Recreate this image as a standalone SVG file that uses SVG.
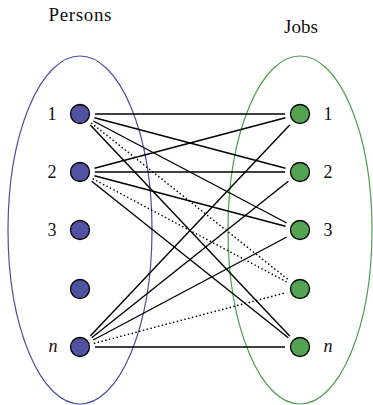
<svg xmlns="http://www.w3.org/2000/svg" width="373" height="405" viewBox="0 0 373 405">
<style>
.t{font-family:"Liberation Serif","DejaVu Serif",serif;fill:#111;}
.lbl{font-size:18px;text-anchor:middle;}
.pn{fill:#5252a3;stroke:#000;stroke-width:1.3;}
.jn{fill:#52a352;stroke:#000;stroke-width:1.3;}
.e{stroke:#000;stroke-width:1.4;fill:none;}
.d{stroke:#000;stroke-width:1.6;stroke-dasharray:0.1 3.8;stroke-linecap:round;fill:none;}
</style>
<rect width="373" height="405" fill="#fff"/>
<g id="persons-set">
<ellipse cx="80" cy="230" rx="72" ry="174" fill="none" stroke="#4d4d9e" stroke-width="1.2"/>
<text class="t" x="80" y="21" font-size="19" text-anchor="middle" textLength="63">Persons</text>
</g>
<g id="jobs-set">
<ellipse cx="300" cy="230" rx="72" ry="174" fill="none" stroke="#4d9e4d" stroke-width="1.2"/>
<text class="t" x="301" y="33" font-size="19" text-anchor="middle">Jobs</text>
</g>
<g id="connectors">
<line class="e" x1="95" y1="114" x2="285" y2="114"/>
<line class="e" x1="94.5" y1="117.8" x2="285.5" y2="168.2"/>
<line class="e" x1="93.3" y1="121" x2="286.7" y2="223"/>
<line class="d" x1="91.7" y1="123.3" x2="288.3" y2="279.7"/>
<line class="e" x1="90.3" y1="124.9" x2="289.7" y2="336.1"/>
<line class="e" x1="94.5" y1="168.2" x2="285.5" y2="117.8"/>
<line class="e" x1="95" y1="172" x2="285" y2="172"/>
<line class="e" x1="94.5" y1="175.8" x2="285.5" y2="226.2"/>
<line class="d" x1="93.2" y1="179" x2="286.8" y2="282"/>
<line class="e" x1="91.7" y1="181.3" x2="288.3" y2="337.7"/>
<line class="e" x1="90.3" y1="336.1" x2="289.7" y2="124.9"/>
<line class="e" x1="91.7" y1="337.7" x2="288.3" y2="181.3"/>
<line class="e" x1="93.2" y1="340" x2="286.8" y2="237"/>
<line class="d" x1="94.5" y1="343.2" x2="285.5" y2="292.8"/>
<line class="e" x1="95" y1="347" x2="285" y2="347"/>
</g>
<g id="p1"><circle class="pn" cx="80" cy="114" r="9.5"/><text class="t lbl" x="52" y="120">1</text></g>
<g id="p2"><circle class="pn" cx="80" cy="172" r="9.5"/><text class="t lbl" x="52" y="178">2</text></g>
<g id="p3"><circle class="pn" cx="80" cy="230" r="9.5"/><text class="t lbl" x="52" y="236">3</text></g>
<g id="p4"><circle class="pn" cx="80" cy="289" r="9.5"/></g>
<g id="pn"><circle class="pn" cx="80" cy="347" r="9.5"/><text class="t lbl" x="53" y="352" font-style="italic">n</text></g>
<g id="j1"><circle class="jn" cx="300" cy="114" r="9.5"/><text class="t lbl" x="328" y="120">1</text></g>
<g id="j2"><circle class="jn" cx="300" cy="172" r="9.5"/><text class="t lbl" x="328" y="178">2</text></g>
<g id="j3"><circle class="jn" cx="300" cy="230" r="9.5"/><text class="t lbl" x="328" y="236">3</text></g>
<g id="j4"><circle class="jn" cx="300" cy="289" r="9.5"/></g>
<g id="jn"><circle class="jn" cx="300" cy="347" r="9.5"/><text class="t lbl" x="328" y="352" font-style="italic">n</text></g>
</svg>
